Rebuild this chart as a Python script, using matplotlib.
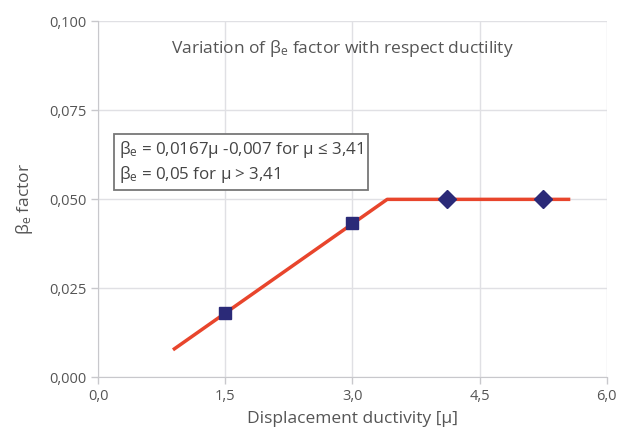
import matplotlib
matplotlib.use("Agg")
import matplotlib.pyplot as plt
from matplotlib.ticker import FuncFormatter

# data
mu_square = [1.5, 3.0]
beta_square = [0.018, 0.0433]
mu_diamond = [4.12, 5.25]
beta_diamond = [0.05, 0.05]
mu_line = [0.9, 3.41, 5.55]
beta_line = [0.0080, 0.050, 0.050]
x_ticks = [0.0, 1.5, 3.0, 4.5, 6.0]
y_ticks = [0.0, 0.025, 0.05, 0.075, 0.1]

plt.rcParams['font.family'] = ['Open Sans', 'DejaVu Sans']
plt.rcParams['mathtext.default'] = 'regular'
grey = '#555555'

fig = plt.figure(figsize=(6.21, 4.37), dpi=100)
ax = fig.add_axes([0.158, 0.1366, 0.819, 0.8144])

ax.grid(True, color='#e0e0e4', linewidth=1)
ax.set_axisbelow(True)

ax.plot(mu_line, beta_line, color='#e8452c', linewidth=2.5, zorder=2)
ax.plot(mu_square, beta_square, 's', color='#2b2a78', markersize=9, zorder=3)
ax.plot(mu_diamond, beta_diamond, 'D', color='#2b2a78', markersize=9, zorder=3)

ax.set_xlim(0, 6)
ax.set_ylim(0, 0.1)
ax.set_xticks(x_ticks)
ax.set_yticks(y_ticks)
ax.xaxis.set_major_formatter(FuncFormatter(lambda v, p: f"{v:.1f}".replace('.', ',')))
ax.yaxis.set_major_formatter(FuncFormatter(lambda v, p: f"{v:.3f}".replace('.', ',')))
ax.tick_params(colors='#c8c8cc', labelcolor=grey, labelsize=10.5, length=5, width=1)

for s in ['top', 'right']:
    ax.spines[s].set_visible(False)
for s in ['left', 'bottom']:
    ax.spines[s].set_color('#c8c8cc')

ax.set_xlabel('Displacement ductivity [μ]', color=grey, fontsize=12.5, labelpad=5)
ax.set_ylabel('β$_e$ factor', color=grey, fontsize=12.5, labelpad=10)

ax.text(2.88, 0.0925, 'Variation of β$_e$ factor with respect ductility',
        ha='center', va='center', color=grey, fontsize=12.5)

ax.text(0.25, 0.0606, 'β$_e$ = 0,0167μ -0,007 for μ ≤ 3,41\nβ$_e$ = 0,05 for μ > 3,41',
        ha='left', va='center', color='#444444', fontsize=12.2, linespacing=1.25,
        bbox=dict(boxstyle='square,pad=0.3', facecolor='white', edgecolor='#777777', linewidth=1.3))

fig.savefig('out.png', dpi=100)
